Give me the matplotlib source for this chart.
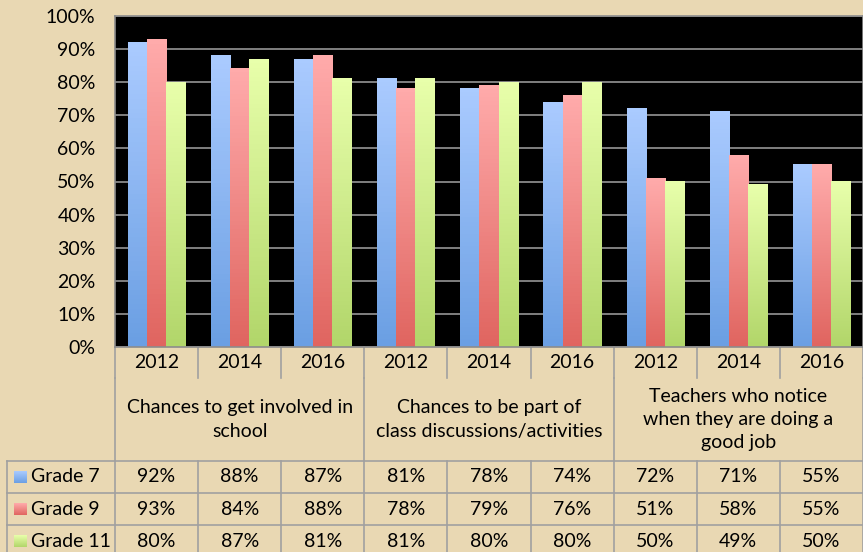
import numpy as np
import matplotlib.pyplot as plt
import matplotlib.transforms as mtransforms
from matplotlib.colors import LinearSegmentedColormap

plt.rcParams['font.family'] = ['Lato', 'DejaVu Sans']

years = ['2012', '2014', '2016'] * 3
topics = ['Chances to get involved in\nschool',
          'Chances to be part of\nclass discussions/activities',
          'Teachers who notice\nwhen they are doing a\ngood job']
grades = ['Grade 7', 'Grade 9', 'Grade 11']
grade7 = [92, 88, 87, 81, 78, 74, 72, 71, 55]
grade9 = [93, 84, 88, 78, 79, 76, 51, 58, 55]
grade11 = [80, 87, 81, 81, 80, 80, 50, 49, 50]
series = [grade7, grade9, grade11]

# light top -> saturated bottom for each series
gradients = [('#aacbff', '#6b9fe3'), ('#ffabab', '#e06560'), ('#e8ffab', '#b2d66a')]

FS = 14

fig = plt.figure(figsize=(8.63, 5.52), dpi=100)
fig.patch.set_facecolor('#e9d8b3')
ax = fig.add_axes([115 / 863, 1 - 347 / 552, 1 - 115 / 863, 331 / 552])
ax.set_facecolor('black')

x = np.arange(len(years))
width = 0.23
grad = np.linspace(0, 1, 64).reshape(-1, 1)
for i, vals in enumerate(series):
    cmap = LinearSegmentedColormap.from_list('g%d' % i, gradients[i])
    bars = ax.bar(x + (i - 1) * width, vals, width, color='none', zorder=2)
    for b in bars:
        x0, h = b.get_x(), b.get_height()
        ax.imshow(grad, extent=[x0, x0 + b.get_width(), 0, h], aspect='auto',
                  cmap=cmap, zorder=2)

ax.set_xlim(-0.5, len(years) - 0.5)
ax.set_ylim(0, 100)
ax.set_yticks(range(0, 101, 10))
ax.set_yticklabels(['%d%%' % v for v in range(0, 101, 10)], fontsize=FS)
ax.tick_params(axis='y', length=0, pad=14)
ax.set_xticks([])
ax.set_axisbelow(True)
ax.yaxis.grid(True, color='#808080', lw=1.4)
for s in ax.spines.values():
    s.set_color('#8c8c8c')
    s.set_linewidth(1.2)

# data table under the chart
tr = mtransforms.blended_transform_factory(ax.transData, ax.transAxes)
line_kw = dict(color='#a0a0a0', lw=1.2, transform=tr, clip_on=False)
yr_bot, cat_bot, row_h = -0.094, -0.344, 0.097
x_left = -0.5 - 108 / 83.1
n = len(years)

for k in range(n + 1):
    ax.plot([k - 0.5, k - 0.5], [0, yr_bot], **line_kw)
    ax.plot([k - 0.5, k - 0.5], [cat_bot, cat_bot - 3.2 * row_h], **line_kw)
for k in range(0, n + 1, 3):
    ax.plot([k - 0.5, k - 0.5], [yr_bot, cat_bot], **line_kw)
ax.plot([x_left, x_left], [cat_bot, cat_bot - 3.2 * row_h], **line_kw)
for r in range(4):
    y = cat_bot - r * row_h
    ax.plot([x_left, n - 0.5], [y, y], **line_kw)

for xi, yr in zip(x, years):
    ax.text(xi, yr_bot / 2, yr, ha='center', va='center', fontsize=FS,
            transform=tr)
for j, t in enumerate(topics):
    ax.text(3 * j + 1, (yr_bot + cat_bot) / 2, t, ha='center', va='center',
            fontsize=FS, linespacing=1.45, transform=tr)

for i, (g, vals) in enumerate(zip(grades, series)):
    yc = cat_bot - (i + 0.5) * row_h
    cmap = LinearSegmentedColormap.from_list('k%d' % i, gradients[i])
    im = ax.imshow(grad, extent=[x_left + 0.085, x_left + 0.23,
                                 yc - 0.018, yc + 0.018],
                   aspect='auto', cmap=cmap, zorder=3, transform=tr)
    im.set_clip_on(False)
    ax.text(x_left + 0.29, yc, g, ha='left', va='center', fontsize=FS,
            transform=tr)
    for xi, v in zip(x, vals):
        ax.text(xi, yc, '%d%%' % v, ha='center', va='center', fontsize=FS,
                transform=tr)

ax.set_xlim(-0.5, len(years) - 0.5)
ax.set_ylim(0, 100)
fig.savefig('out.png', dpi=100, facecolor=fig.get_facecolor())
